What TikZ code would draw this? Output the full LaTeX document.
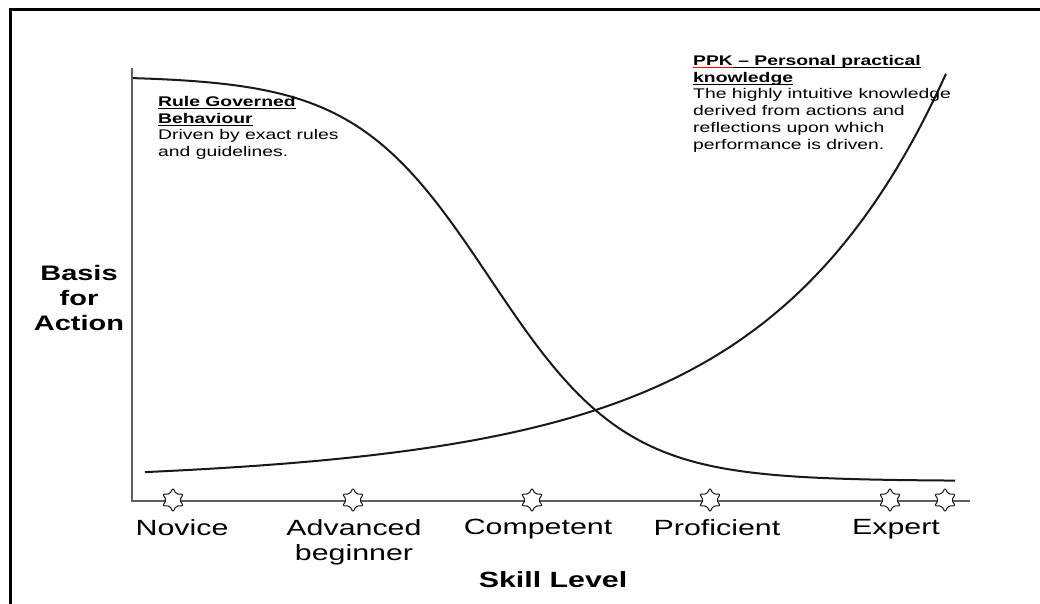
\documentclass[tikz,border=0pt]{standalone}
\usepackage{fontspec}
\setmainfont{Liberation Sans}[FakeStretch=1.38]
\usepackage{tikz}
\usetikzlibrary{positioning,shapes.geometric}
\definecolor{inkgrey}{RGB}{25,25,25}
\definecolor{axisgrey}{RGB}{95,95,95}
\newcommand{\ulbox}[1]{\setbox0\hbox{#1}\rlap{\vrule width\wd0 height -2pt depth 3pt}\box0}
\newcommand{\redulbox}[1]{\setbox0\hbox{#1}\rlap{\textcolor{red}{\vrule width\wd0 height -2pt depth 3pt}}\box0}

\begin{document}
\begin{tikzpicture}
              [x=1pt,y=-1pt,
                every node/.style={draw=none,fill=none,inner sep=0pt},
                note/.style={align=left,anchor=north west,font=\fontsize{14}{16.8}\selectfont},
                level/.style={align=center,anchor=north,font=\fontsize{22}{25}\selectfont},
                title/.style={align=center,font=\bfseries\fontsize{21}{25}\selectfont},
                skillstar/.style={star,star points=6,star point ratio=1.8,draw=inkgrey,fill=white,
                  line width=1pt,rounded corners=2pt,minimum size=24pt},
                axis/.style={draw=axisgrey,line width=1.4pt},
                curve/.style={draw=inkgrey,line width=2pt}]
              \useasboundingbox (0,0) rectangle (1040,604);
              \fill[white] (0,0) rectangle (1040,604);
              \draw[line width=3pt] (10,604) -- (10,10) -- (1040,10);
              % axes
              \coordinate (ytop) at (132,68);
              \coordinate (origin) at (132,501);
              \coordinate (xend) at (970,501);
              \draw[axis] (ytop) -- (origin) -- (xend);
              % rule governed behaviour
              \draw[curve] plot[smooth,domain=133:955,samples=80] (\x,{76+405/(1+exp(-(\x-490)/68))});
              % personal practical knowledge
              \draw[curve] plot[smooth,domain=145:946,samples=80] (\x,{490-exp(3.25+0.3*((\x-277)/100)+0.0173*((\x-277)/100)^2)});
              \foreach \x [count=\i] in {173,353,532,710,890,945}
                \node[skillstar] (s\i) at (\x,500) {};
              \foreach \x/\t [count=\i] in {182/Novice,354/Advanced\\beginner,538/Competent,717/Proficient,896/Expert}
                \node[level] (lvl\i) at (\x,519) {\t};
              \node[title] (basis) at (79,298) {Basis\\for\\Action};
              \node[title,font=\bfseries\fontsize{22}{25}\selectfont] (skill) at (553,580) {Skill Level};
              \node[note] (rgb) at (158,96) {\textbf{\ulbox{Rule Governed}}\\\textbf{\ulbox{Behaviour}}\\Driven by exact rules\\and guidelines.};
              \node[note] (ppk) at (693,55) {\textbf{\redulbox{PPK}\ulbox{ – Personal practical}}\\\textbf{\ulbox{knowledge}}\\The highly intuitive knowledge\\derived from actions and\\reflections upon which\\performance is driven.};
            \end{tikzpicture}
\end{document}
